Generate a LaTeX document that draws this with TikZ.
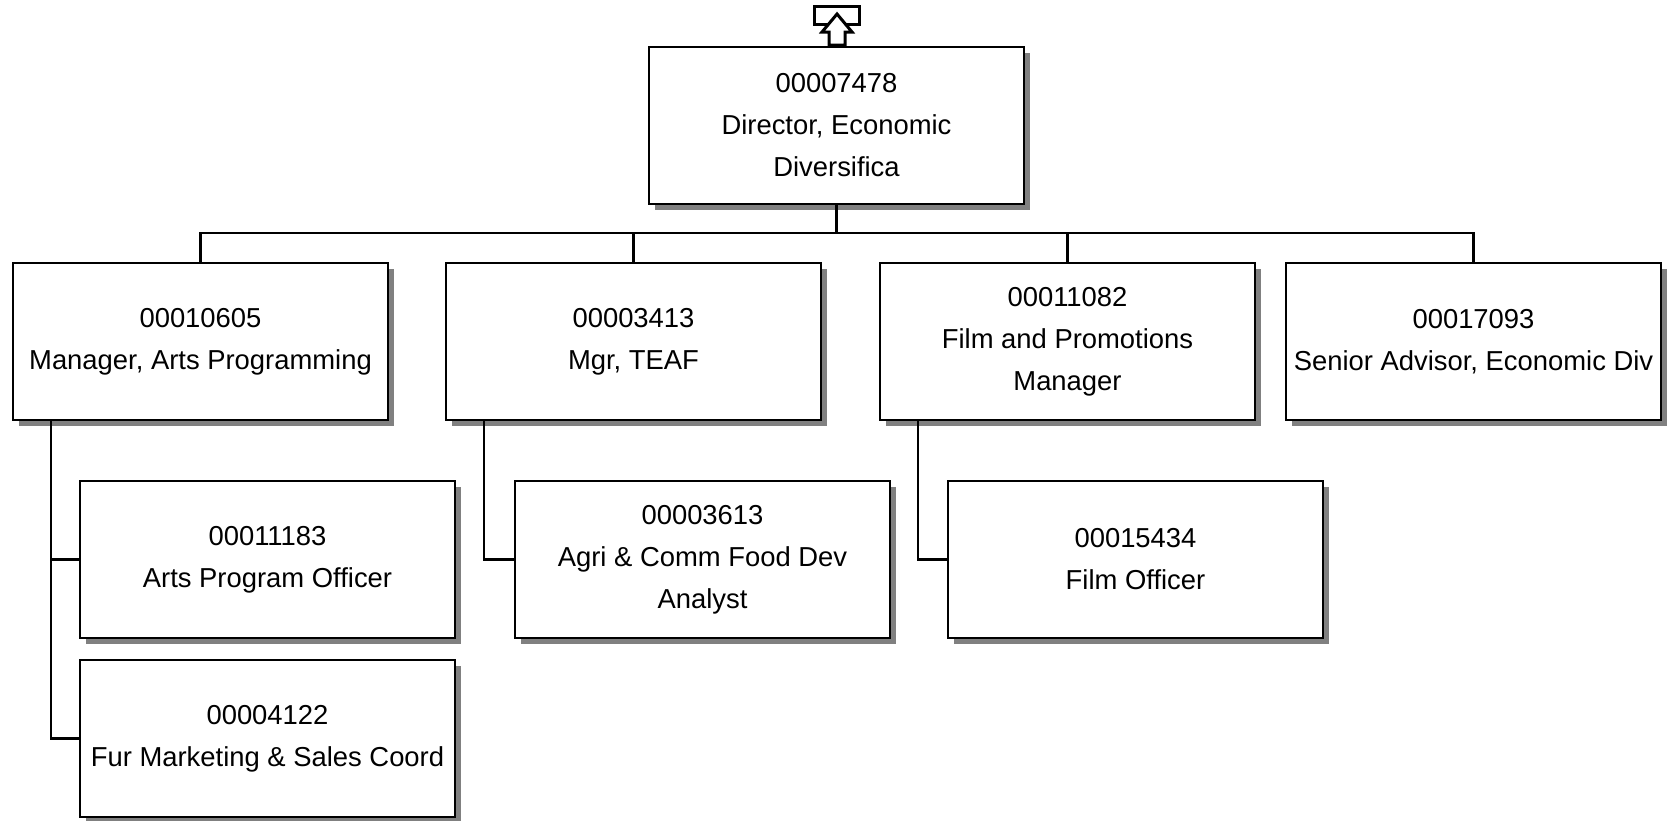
\documentclass[tikz,border=0pt]{standalone}
\usepackage{fontspec}
\setmainfont{Liberation Sans}
\usepackage{xcolor}
\usepackage{tikz}
\usetikzlibrary{shadows}
\definecolor{ink}{HTML}{000000}
\definecolor{shade}{HTML}{808080}
\tikzset{
  post/.style={draw=ink, fill=white, line width=2.8pt, anchor=north west,
    minimum width=375pt, minimum height=157pt, inner sep=0pt, outer sep=0pt,
    align=center, font=\fontsize{27.4}{42}\selectfont,
    drop shadow={shadow xshift=6pt, shadow yshift=-6pt, fill=shade, opacity=1}},
  wire/.style={draw=ink, line width=2.4pt},
  icon/.style={draw=ink, fill=white, line width=3pt, line join=miter},
}

\begin{document}
\begin{tikzpicture}[x=1pt,y=-1pt]
  \useasboundingbox (0,0) rectangle (1671,820);

  % top of chart
  \node[post] (dir) at (649,47) {00007478\\Director, Economic\\Diversifica};
  \draw[icon] (814,6) rectangle (859,24);
  \draw[icon] (837,14) -- (852,32) -- (845,32) -- (845,45) -- (829,45)
    -- (829,32) -- (822,32) -- cycle;

  % managers
  \node[post] (arts) at (13,263)   {00010605\\Manager, Arts Programming};
  \node[post] (teaf) at (446,263)  {00003413\\Mgr, TEAF};
  \node[post] (film) at (880,263)  {00011082\\Film and Promotions\\Manager};
  \node[post] (adv)  at (1286,263) {00017093\\Senior Advisor, Economic Div};

  % staff
  \node[post] (artsoff) at (80,481)  {00011183\\Arts Program Officer};
  \node[post] (fur)     at (80,660)  {00004122\\Fur Marketing \& Sales Coord};
  \node[post] (agri)    at (515,481) {00003613\\Agri \& Comm Food Dev\\Analyst};
  \node[post] (filmoff) at (948,481) {00015434\\Film Officer};

  \draw[wire] (dir.south) -- ++(0,29) coordinate (bus);
  \draw[wire] (arts.north) |- (bus) -| (adv.north);
  \draw[wire] (teaf.north) -- (teaf.north |- bus);
  \draw[wire] (film.north) -- (film.north |- bus);

  \draw[wire] (arts.south west) ++(38,0) |- (artsoff.west);
  \draw[wire] (arts.south west) ++(38,0) |- (fur.west);
  \draw[wire] (teaf.south west) ++(38,0) |- (agri.west);
  \draw[wire] (film.south west) ++(38,0) |- (filmoff.west);
\end{tikzpicture}
\end{document}
